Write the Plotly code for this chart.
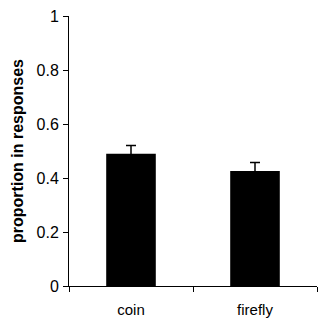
import plotly.graph_objects as go

categories = ["coin", "firefly"]
values = [0.49, 0.426]
errors = [0.03, 0.031]
y_ticks = [0, 0.2, 0.4, 0.6, 0.8, 1]
y_tick_labels = ["0", "0.2", "0.4", "0.6", "0.8", "1"]

fig = go.Figure(go.Bar(
    x=categories, y=values, width=0.4,
    marker=dict(color="black", line=dict(width=0)),
    error_y=dict(type="data", array=errors, symmetric=True, color="black", thickness=1.5, width=5),
))
font = "Liberation Sans, Arial, sans-serif"
fig.update_layout(
    width=320, height=318,
    margin=dict(l=69, r=3, t=16, b=32),
    paper_bgcolor="white", plot_bgcolor="white",
    showlegend=False,
    font=dict(family=font, size=14, color="black"),
)
fig.update_xaxes(
    type="category", range=[-0.5, 1.5], tickson="boundaries",
    showline=True, linecolor="black", linewidth=1,
    ticks="outside", ticklen=5, tickcolor="black", tickwidth=1,
    showgrid=False, tickfont=dict(size=15, family=font),
    automargin=False, ticklabelstandoff=10,
)
fig.update_yaxes(
    range=[0, 1], tickvals=y_ticks, ticktext=y_tick_labels,
    showline=True, linecolor="black", linewidth=1,
    ticks="outside", ticklen=5, tickcolor="black", tickwidth=1,
    showgrid=False, zeroline=False, tickfont=dict(size=16, family=font),
    automargin=False, ticklabelstandoff=1,
    title=dict(text="<b>proportion in responses</b>", font=dict(size=16, family=font), standoff=8),
)
fig.write_html("out.html", config={"displayModeBar": False},
               post_script="document.body.style.margin='0';")
